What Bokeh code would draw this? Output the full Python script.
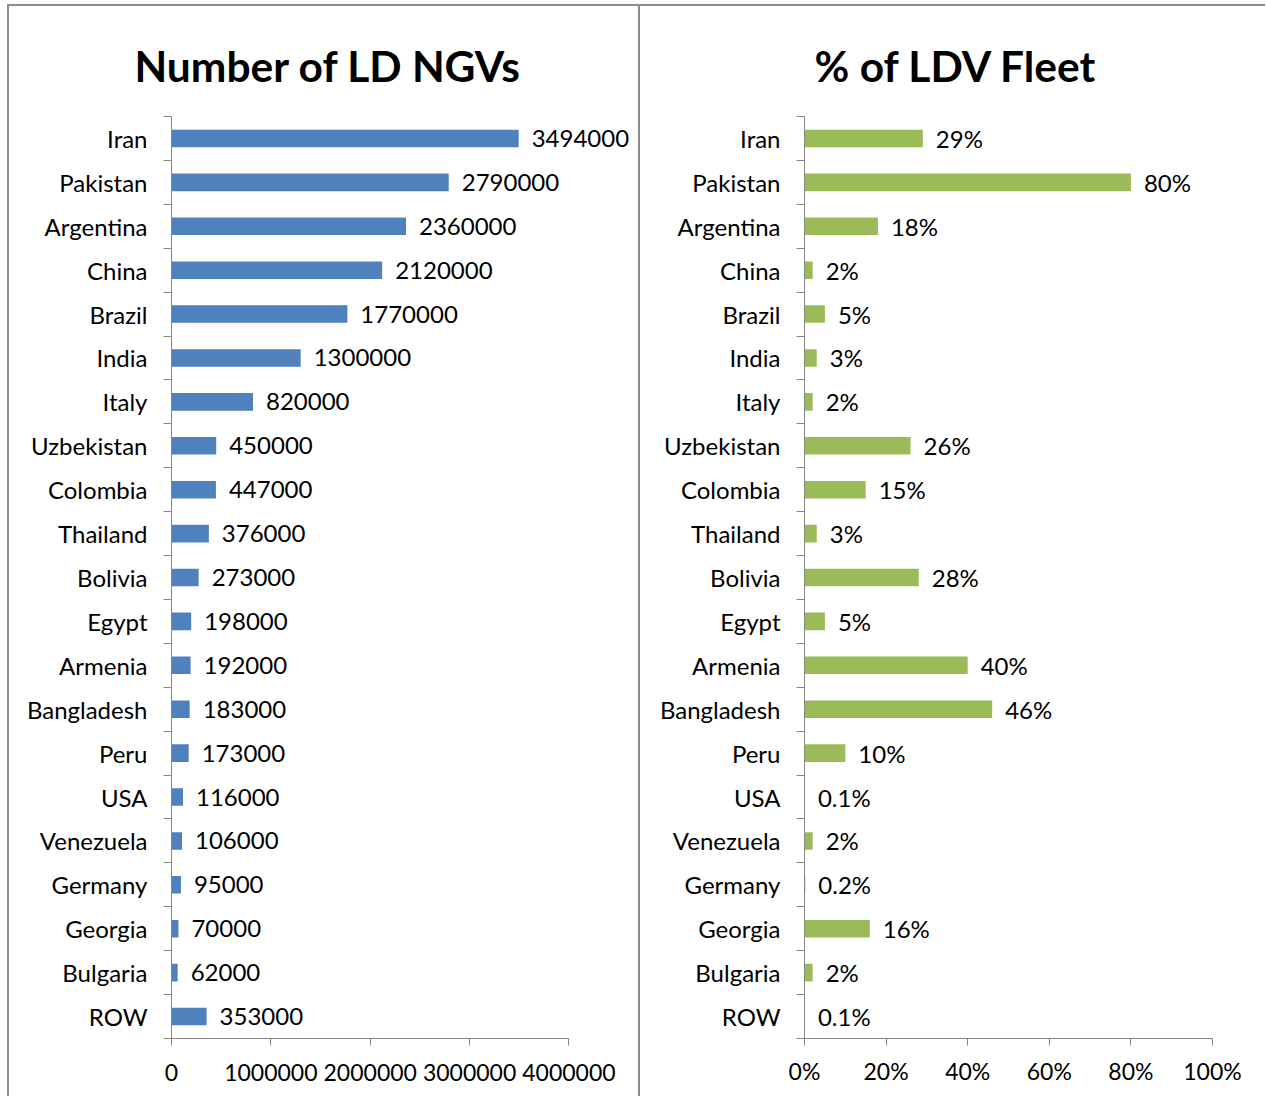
from bokeh.plotting import figure
from bokeh.models import Range1d, FixedTicker, NumeralTickFormatter, ColumnDataSource, LabelSet
from bokeh.layouts import row
from bokeh.core.properties import value
from bokeh.embed import file_html
from bokeh.resources import INLINE

countries = ["Iran", "Pakistan", "Argentina", "China", "Brazil", "India", "Italy",
             "Uzbekistan", "Colombia", "Thailand", "Bolivia", "Egypt", "Armenia",
             "Bangladesh", "Peru", "USA", "Venezuela", "Germany", "Georgia",
             "Bulgaria", "ROW"]
ngv_counts = [3494000, 2790000, 2360000, 2120000, 1770000, 1300000, 820000,
              450000, 447000, 376000, 273000, 198000, 192000, 183000, 173000,
              116000, 106000, 95000, 70000, 62000, 353000]
fleet_share = [0.29, 0.80, 0.18, 0.02, 0.05, 0.03, 0.02, 0.26, 0.15, 0.03, 0.28,
               0.05, 0.40, 0.46, 0.10, 0.001, 0.02, 0.002, 0.16, 0.02, 0.001]
fleet_labels = ["29%", "80%", "18%", "2%", "5%", "3%", "2%", "26%", "15%", "3%",
                "28%", "5%", "40%", "46%", "10%", "0.1%", "2%", "0.2%", "16%",
                "2%", "0.1%"]
left_ticks = [0, 1000000, 2000000, 3000000, 4000000]
right_ticks = [0, 0.2, 0.4, 0.6, 0.8, 1.0]

n = len(countries)
ypos = [n - i - 0.5 for i in range(n)]
boundaries = [float(k) for k in range(n + 1)]

FONT = "Lato"
FS = "24px"
AX = "#868686"
BORDER = "2px solid #8c8c8c"


def make_panel(title, xvals, labels, color, xmax, xview, axis_px, ticks, fmt, width,
               left_border, title_offset, xstand):
    src = ColumnDataSource(dict(y=ypos, x=xvals, lab=labels))
    frame_w = axis_px * xview / xmax
    right_border = int(round(width - 2 - left_border - frame_w))
    p = figure(width=width, height=1092, output_backend="svg", toolbar_location=None,
               x_range=Range1d(0, xview), y_range=Range1d(0, n),
               min_border_left=left_border, min_border_right=right_border,
               min_border_top=110, min_border_bottom=60)
    p.hbar(y="y", right="x", left=0, height=0.4, source=src, color=color, line_color=None)
    p.add_layout(LabelSet(x="x", y="y", text="lab", source=src, x_offset=13,
                          text_align="left", text_baseline="middle",
                          text_font=value(FONT), text_font_size=FS, text_color="#000000"))
    p.title.text = title
    p.title.text_font = FONT
    p.title.text_font_size = "42.5px"
    p.title.text_font_style = "bold"
    p.title.align = "left"
    p.title.offset = title_offset
    p.title.standoff = 52
    p.title.text_color = "#000000"
    p.xgrid.visible = False
    p.ygrid.visible = False
    p.outline_line_color = None

    ya = p.yaxis[0]
    ya.ticker = FixedTicker(ticks=ypos, minor_ticks=boundaries)
    ya.major_label_overrides = {y: c for y, c in zip(ypos, countries)}
    ya.major_tick_out = 0
    ya.major_tick_in = 0
    ya.minor_tick_out = 8
    ya.minor_tick_in = 0
    ya.minor_tick_line_color = AX
    ya.axis_line_color = AX
    ya.major_label_standoff = 16
    ya.major_label_text_font = FONT
    ya.major_label_text_font_size = FS
    ya.major_label_text_color = "#000000"

    xa = p.xaxis[0]
    xa.bounds = (0, xmax)
    xa.ticker = FixedTicker(ticks=ticks)
    xa.formatter = NumeralTickFormatter(format=fmt)
    xa.major_tick_out = 7
    xa.major_tick_in = 0
    xa.minor_tick_out = 0
    xa.minor_tick_in = 0
    xa.major_tick_line_color = AX
    xa.axis_line_color = AX
    xa.major_label_standoff = xstand
    xa.major_label_text_font = FONT
    xa.major_label_text_font_size = "23px"
    xa.major_label_text_color = "#000000"
    return p


p1 = make_panel("Number of LD NGVs", ngv_counts, [str(v) for v in ngv_counts], "#4f81bd",
                4000000, 4700000, 396, left_ticks, "0", 631, 162, -37, 18)
p2 = make_panel("% of LDV Fleet", fleet_share, fleet_labels, "#9bbb59",
                1.0, 1.0, 406, right_ticks, "0%", 627, 164, 10, 11)
p1.styles = {"border-left": BORDER, "border-top": BORDER}
p2.styles = {"border-left": BORDER, "border-top": BORDER}

layout = row(p1, p2, styles={"margin-left": "7px", "margin-top": "4px"})
open("out.html", "w").write(file_html(layout, INLINE))
